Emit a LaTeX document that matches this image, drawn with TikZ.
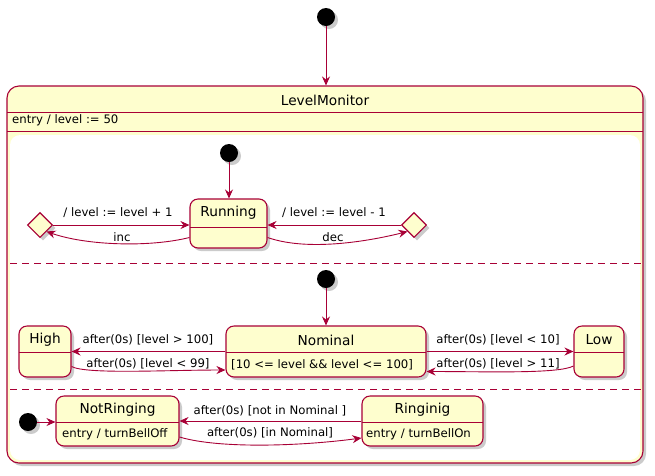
\documentclass[tikz,border=0pt]{standalone}
\usepackage{fontspec}
\setmainfont{DejaVu Sans}
\usetikzlibrary{shapes.geometric,arrows.meta,shadows}
\definecolor{pbord}{HTML}{A80036}
\definecolor{pfill}{HTML}{FEFECE}
\tikzset{
 sh/.style={drop shadow={shadow xshift=3pt,shadow yshift=-3pt,fill=black!45,opacity=0.45}},
 statebox/.style={draw=pbord,fill=pfill,line width=1.1pt,rounded corners=8pt,sh,inner sep=0pt},
 init/.style={circle,fill=black,minimum size=18pt,inner sep=0pt,sh},
 choice/.style={diamond,draw=pbord,fill=pfill,line width=1.1pt,minimum width=25pt,minimum height=25pt,inner sep=0pt,sh},
 arr/.style={draw=pbord,line width=0.9pt,-{Stealth[length=9pt,width=8pt,inset=3pt]}},
 ttl/.style={font=\fontsize{13.7}{16}\selectfont,inner sep=0pt},
 lbl/.style={font=\fontsize{11.7}{14}\selectfont,inner sep=0pt},
 sep/.style={draw=pbord,line width=0.8pt},
 dsep/.style={draw=pbord,line width=0.9pt,dash pattern=on 7pt off 5pt},
}
\begin{document}
\begin{tikzpicture}[x=1pt,y=-1pt]
\useasboundingbox (0,0) rectangle (655,475);
% outer composite state
\node[init] (i0) at (326,17) {};
\node[statebox,rounded corners=12pt,minimum width=636pt,minimum height=377pt] (lm) at (325,274.5) {};
\draw[sep] (7,112) -- (643,112);
\draw[sep] (7,131) -- (643,131);
\fill[white,rounded corners=10pt] (10,135) rectangle (640,460);
\node[ttl] (lmt) at (325,100) {LevelMonitor};
\node[lbl,anchor=west] (lme) at (12,120) {entry / level := 50};
\draw[arr] (i0) -- (i0 |- lm.north);
% region 1
\node[init] (i1) at (229,153) {};
\node[statebox,minimum width=77pt,minimum height=49pt] (run) at (228.5,223.5) {};
\draw[sep] (190,227) -- (267,227);
\node[ttl] (runt) at (228.5,212.5) {Running};
\node[choice] (d1) at (40,225) {};
\node[choice] (d2) at (414,225) {};
\draw[arr] (i1) -- (i1 |- run.north);
\draw[arr] (d1.east) -- (d1.east -| run.west);
\node[lbl] (l1) at (118,213) {/ level := level + 1};
\draw[arr] ([yshift=-14pt]run.west) .. controls +(-40,10) and +(40,14) .. (d1.south east);
\node[lbl] (l2) at (122,237) {inc};
\draw[arr] (d2.west) -- (d2.west -| run.east);
\node[lbl] (l3) at (334,213) {/ level := level - 1};
\draw[arr] ([yshift=-14pt]run.east) .. controls +(40,14) and +(-40,10) .. (d2.south west);
\node[lbl] (l4) at (333,237) {dec};
\draw[dsep] (10,263) -- (641,263);
% region 2
\node[init] (i2) at (326,279) {};
\node[statebox,minimum width=52pt,minimum height=51pt] (high) at (45,351.5) {};
\node[statebox,minimum width=200pt,minimum height=51pt] (nom) at (326,351.5) {};
\node[statebox,minimum width=50pt,minimum height=51pt] (low) at (599,351.5) {};
\draw[sep] (19,352) -- (71,352);
\draw[sep] (226,352) -- (426,352);
\draw[sep] (574,352) -- (624,352);
\node[ttl] (hight) at (45,340) {High};
\node[ttl] (nomt) at (326,340) {Nominal};
\node[ttl] (lowt) at (599,340) {Low};
\node[lbl,anchor=west] (nomb) at (231,364.5) {[10 <= level \&\& level <= 100]};
\draw[arr] (i2) -- (i2 |- nom.north);
\draw[arr] (nom.west) -- (high.east);
\node[lbl] (l5) at (148,340) {after(0s) [level > 100]};
\draw[arr] ([yshift=-15pt]high.east) .. controls +(15,8) and +(-60,0) .. ([yshift=-18.5pt]nom.west);
\node[lbl] (l6) at (148,364) {after(0s) [level < 99]};
\draw[arr] (nom.east) -- (low.west);
\node[lbl] (l7) at (498,340) {after(0s) [level < 10]};
\draw[arr] ([yshift=-14.5pt]low.west) .. controls +(-15,8) and +(60,0) .. ([yshift=-20pt]nom.east);
\node[lbl] (l8) at (498,364) {after(0s) [level > 11]};
\draw[dsep] (10,389) -- (641,389);
% region 3
\node[init] (i3) at (28,422) {};
\node[statebox,minimum width=123pt,minimum height=50pt] (nr) at (117.5,421) {};
\node[statebox,minimum width=121pt,minimum height=50pt] (ring) at (422.5,421) {};
\draw[sep] (56,422) -- (179,422);
\draw[sep] (362,422) -- (483,422);
\node[ttl] (nrt) at (117.5,410) {NotRinging};
\node[ttl] (ringt) at (422.5,410) {Ringinig};
\node[lbl,anchor=west] (nrb) at (62,434) {entry / turnBellOff};
\node[lbl,anchor=west] (ringb) at (366,434) {entry / turnBellOn};
\draw[arr] (i3) -- (i3 -| nr.west);
\draw[arr] (ring.west) -- (nr.east);
\node[lbl] (l9) at (270,411) {after(0s) [not in Nominal ]};
\draw[arr] ([yshift=-16pt]nr.east) .. controls +(40,12) and +(-60,8) .. ([yshift=-17pt]ring.west);
\node[lbl] (l10) at (270,433) {after(0s) [in Nominal]};
\end{tikzpicture}
\end{document}
